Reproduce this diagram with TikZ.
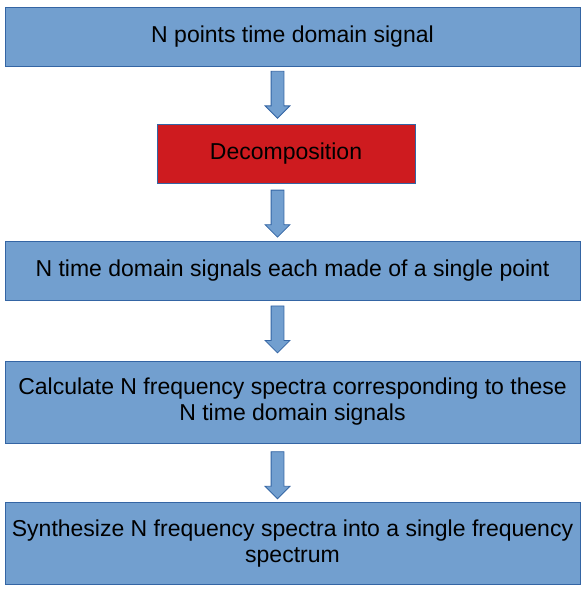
\documentclass[tikz,border=0pt]{standalone}
\usepackage{fontspec}
\setmainfont{Liberation Sans}
\usepackage{tikz}
\usetikzlibrary{positioning, shapes.arrows}
\definecolor{boxblue}{RGB}{114,159,207}
\definecolor{edgeblue}{RGB}{52,101,164}
\definecolor{decred}{RGB}{206,27,31}

\begin{document}
\begin{tikzpicture}[
  x=1pt, y=-1pt,
  box/.style={rectangle, draw=edgeblue, fill=boxblue, line width=0.8pt,
              minimum width=575pt, minimum height=59pt, align=center,
              font=\fontsize{23}{26}\selectfont},
  downarrow/.style={single arrow, draw=edgeblue, fill=boxblue, line width=0.8pt,
              rotate=-90, anchor=tail, inner xsep=0pt, inner ysep=6pt,
              minimum height=47pt, single arrow head extend=6pt}
]
\useasboundingbox (0,0) rectangle (584,591);

\node[box] (sig) at (292.5,37) {N points time domain signal};
\node[box, fill=decred, minimum width=258pt, below=57pt of sig, xshift=-6.5pt] (dec)
  {Decomposition};
\node[box, below=57pt of dec, xshift=6.5pt] (single)
  {N time domain signals each made of a single point};
\node[box, minimum height=82pt, below=60pt of single] (calc)
  {Calculate N frequency spectra corresponding to these\\N time domain signals};
\node[box, minimum height=82pt, below=59pt of calc] (synth)
  {Synthesize N frequency spectra into a single frequency\\spectrum};

\node[downarrow] (a1) at ([shift={(-15pt,-4pt)}]sig.south) {};
\node[downarrow] (a2) at ([shift={(-8.5pt,-6pt)}]dec.south) {};
\node[downarrow] (a3) at ([shift={(-15pt,-5pt)}]single.south) {};
\node[downarrow] (a4) at ([shift={(-15pt,-8pt)}]calc.south) {};
\end{tikzpicture}
\end{document}
